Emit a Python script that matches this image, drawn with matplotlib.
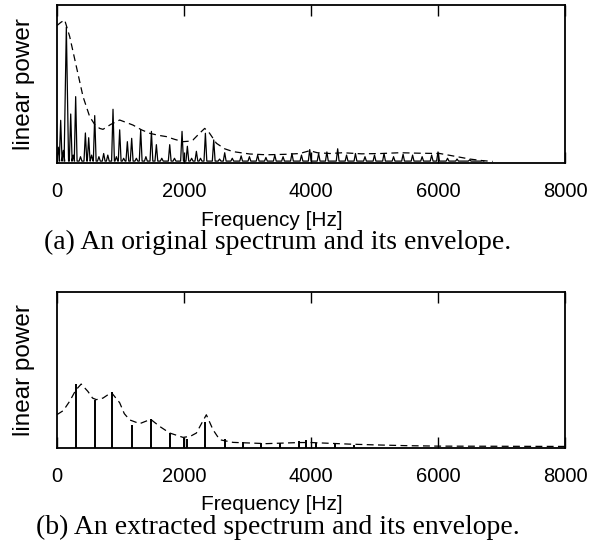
import matplotlib
matplotlib.use("Agg")
import matplotlib.pyplot as plt

# ---------------- data ----------------
# (a) original spectrum: harmonic peak positions [Hz] and linear power
orig_peak_hz = [20, 58, 100, 147, 216, 255, 294, 370, 447, 499,
                545, 594, 660, 735, 800, 882, 935, 987, 1050, 1108,
                1176, 1250, 1318, 1400, 1487, 1565, 1650, 1775, 1850, 1969,
                2053, 2120, 2195, 2260, 2337, 2468, 2560, 2641, 2760, 2900,
                3030, 3160, 3290, 3430, 3560, 3700, 3850, 3980, 4120, 4250,
                4420, 4560, 4700, 4850, 5000, 5150, 5300, 5450, 5600, 5750,
                5900, 6000, 6150, 6300, 6500, 6700]
orig_peak_pow = [0.10, 0.27, 0.08, 0.86, 0.31, 0.05, 0.42, 0.04, 0.19, 0.16,
                 0.05, 0.30, 0.04, 0.06, 0.05, 0.34, 0.04, 0.21, 0.03, 0.135,
                 0.156, 0.03, 0.21, 0.04, 0.20, 0.116, 0.03, 0.116, 0.03, 0.20,
                 0.106, 0.03, 0.074, 0.03, 0.188, 0.146, 0.025, 0.065, 0.03, 0.045,
                 0.04, 0.05, 0.035, 0.05, 0.04, 0.06, 0.05, 0.085, 0.06, 0.07,
                 0.09, 0.05, 0.06, 0.04, 0.05, 0.06, 0.04, 0.055, 0.05, 0.04,
                 0.05, 0.07, 0.03, 0.025, 0.02, 0.015]
orig_floor = 0.012

# (a) envelope
env_a_hz = [0, 60, 121, 200, 305, 410, 515, 600, 672, 724, 850, 987, 1100,
            1197, 1330, 1460, 1600, 1723, 1850, 1985, 2080, 2142, 2250, 2326,
            2400, 2510, 2640, 2772, 3035, 3300, 3600, 3822, 3980, 4100, 4300,
            4500, 4800, 5100, 5400, 5700, 6030, 6300, 6500, 6700, 6860]
env_a_pow = [0.87, 0.89, 0.905, 0.80, 0.61, 0.42, 0.293, 0.24, 0.219, 0.213,
             0.245, 0.272, 0.255, 0.24, 0.21, 0.188, 0.175, 0.167, 0.15, 0.135,
             0.138, 0.146, 0.19, 0.219, 0.19, 0.125, 0.09, 0.072, 0.057, 0.052,
             0.055, 0.06, 0.078, 0.065, 0.06, 0.065, 0.058, 0.06, 0.065, 0.062,
             0.06, 0.04, 0.025, 0.015, 0.01]

# (b) extracted spectrum (harmonic lines)
ext_hz = [294, 594, 872, 1181, 1487, 1775, 2000, 2053, 2337, 2641,
          2929, 3218, 3507, 3811, 3927, 4085, 4380, 4670]
ext_pow = [0.41, 0.31, 0.36, 0.15, 0.186, 0.096, 0.064, 0.06, 0.164, 0.058,
           0.036, 0.03, 0.03, 0.043, 0.053, 0.03, 0.025, 0.022]

# (b) envelope
env_b_hz = [0, 100, 200, 294, 381, 486, 560, 620, 724, 856, 987, 1060, 1145,
            1302, 1420, 1487, 1618, 1775, 1985, 2100, 2195, 2280, 2352, 2457,
            2562, 2772, 3297, 3822, 4000, 4300, 4600, 5000, 5500, 6000, 8000]
env_b_pow = [0.214, 0.24, 0.30, 0.37, 0.41, 0.363, 0.32, 0.31, 0.32, 0.356,
             0.29, 0.22, 0.18, 0.156, 0.175, 0.18, 0.138, 0.096, 0.068, 0.075,
             0.096, 0.16, 0.213, 0.117, 0.053, 0.036, 0.028, 0.035, 0.035, 0.03,
             0.025, 0.02, 0.015, 0.012, 0.01]

x_ticks = [0, 2000, 4000, 6000, 8000]
x_tick_labels = ["0", "2000", "4000", "6000", "8000"]
captions = ["(a) An original spectrum and its envelope.",
            "(b) An extracted spectrum and its envelope."]

assert len(orig_peak_hz) == len(orig_peak_pow)
assert len(env_a_hz) == len(env_a_pow)
assert len(ext_hz) == len(ext_pow)
assert len(env_b_hz) == len(env_b_pow)

# ---------------- figure ----------------
W, H = 594, 551
fig = plt.figure(figsize=(W / 100, H / 100), dpi=100)
sans = "Liberation Sans"
serif = "Liberation Serif"


def px_axes(left, top, right, bottom):
    return fig.add_axes([left / W, 1 - bottom / H, (right - left) / W, (bottom - top) / H])


ax_a = px_axes(57, 5, 565, 163)
ax_b = px_axes(57, 292, 565, 448)

# spectrum (a) as a spiky polyline through the peaks
spec_x, spec_y = [], []
for f, p in zip(orig_peak_hz, orig_peak_pow):
    w = 35 if p > 0.6 else 22
    spec_x += [f - w, f, f + w]
    spec_y += [orig_floor, p, orig_floor]
ax_a.plot(spec_x, spec_y, color="black", lw=0.9)
ax_a.plot(env_a_hz, env_a_pow, color="black", lw=0.9, linestyle=(0, (5.5, 3.5)))

ax_b.vlines(ext_hz, 0, ext_pow, color="black", lw=1.4)
ax_b.plot(env_b_hz, env_b_pow, color="black", lw=0.9, linestyle=(0, (5.5, 3.5)))

for ax, cap, bot_px in zip([ax_a, ax_b], captions, [163, 448]):
    ax.set_xlim(0, 8000)
    ax.set_ylim(0, 1)
    ax.set_xticks(x_ticks)
    ax.set_xticklabels(x_tick_labels, fontfamily=sans)
    ax.set_yticks([])
    ax.tick_params(axis="x", direction="in", top=True, bottom=True,
                   length=8, width=1.0, pad=14, labelsize=14.5)
    for s in ax.spines.values():
        s.set_linewidth(1.3)
    ax.set_ylabel("linear power", fontfamily=sans, fontsize=17.5)
    ax.yaxis.set_label_coords(-22 / 508, 0.5)
    fig.text(272 / W, 1 - (bot_px + 57) / H, "Frequency [Hz]",
             fontfamily=sans, fontsize=15, ha="center", va="center")
    fig.text(278 / W, 1 - (bot_px + 79) / H, cap,
             fontfamily=serif, fontsize=20, ha="center", va="center")

fig.savefig("out.png", dpi=100)
